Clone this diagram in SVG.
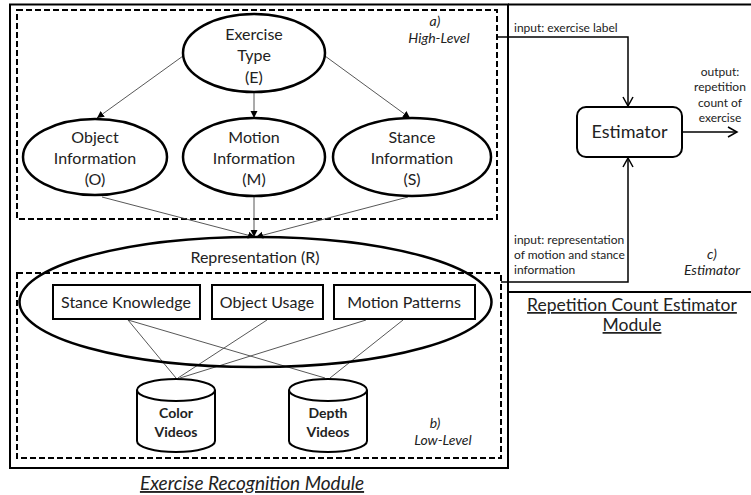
<svg xmlns="http://www.w3.org/2000/svg" width="751" height="495" viewBox="0 0 751 495">
<defs>
<style>
text{font-family:Lato,"Open Sans",sans-serif;fill:#222}
.n{font-size:16px;text-anchor:middle}
.b{font-size:14px;font-weight:bold;text-anchor:middle}
.s{font-size:12px}
.i{font-size:14px;font-style:italic;text-anchor:middle}
.t{font-size:17.5px;text-anchor:middle;text-decoration:underline}
.sh{fill:#fff;stroke:#000;stroke-width:2.5}
.box{fill:none;stroke:#000;stroke-width:2}
.dash{fill:none;stroke:#000;stroke-width:2;stroke-dasharray:6,3}
.c{stroke:#444;stroke-width:0.9;fill:none}
.e{stroke:#000;stroke-width:1.5;fill:none}
</style>
<marker id="ah" markerWidth="8" markerHeight="8" refX="7" refY="4" orient="auto" markerUnits="userSpaceOnUse">
<path d="M0,0.5 L7,4 L0,7.5 Z" fill="#000"/>
</marker>
<marker id="oa" markerWidth="12" markerHeight="12" refX="10" refY="6" orient="auto" markerUnits="userSpaceOnUse">
<path d="M1,1 L10,6 L1,11" fill="none" stroke="#000" stroke-width="1.5"/>
</marker>
</defs>

<g id="frames">
<rect class="box" x="10" y="4.5" width="498" height="463.5"/>
<line class="box" x1="508" y1="4.5" x2="751" y2="4.5"/>
<line class="box" x1="508" y1="292" x2="751" y2="292"/>
<rect class="dash" x="17" y="10" width="480" height="209"/>
<rect class="dash" x="17" y="273" width="484" height="185"/>
<text class="i" x="435" y="26">a)</text>
<text class="i" x="439" y="43">High-Level</text>
<text class="i" x="435" y="428">b)</text>
<text class="i" x="443" y="445">Low-Level</text>
<text class="i" x="712" y="259">c)</text>
<text class="i" x="712" y="275">Estimator</text>
<text class="t" x="252" y="490" font-style="italic" style="font-size:19px">Exercise Recognition Module</text>
<text class="t" x="632" y="311">Repetition Count Estimator</text>
<text class="t" x="632" y="331">Module</text>
</g>

<g id="connectors">
<line class="c" x1="183" y1="56" x2="97" y2="118" marker-end="url(#ah)"/>
<line class="c" x1="254" y1="92" x2="254" y2="118" marker-end="url(#ah)"/>
<line class="c" x1="325" y1="56" x2="410" y2="118" marker-end="url(#ah)"/>
<line class="c" x1="102" y1="197" x2="255" y2="237" marker-end="url(#ah)"/>
<line class="c" x1="254" y1="197" x2="254" y2="237" marker-end="url(#ah)"/>
<line class="c" x1="408" y1="197" x2="256" y2="237" marker-end="url(#ah)"/>
<line class="c" x1="128" y1="320" x2="176" y2="378"/>
<line class="c" x1="128" y1="320" x2="325" y2="378"/>
<line class="c" x1="267" y1="320" x2="178" y2="378"/>
<line class="c" x1="366" y1="320" x2="180" y2="378"/>
<line class="c" x1="403" y1="320" x2="330" y2="378"/>
<polyline class="e" points="497,37 628,37 628,106" marker-end="url(#oa)"/>
<polyline class="e" points="501,282 628,282 628,158" marker-end="url(#oa)"/>
<line class="e" x1="682" y1="132" x2="737" y2="132" marker-end="url(#oa)"/>
<text class="s" x="514" y="32">input: exercise label</text>
<text class="s" x="514" y="244">input: representation</text>
<text class="s" x="514" y="259">of motion  and stance</text>
<text class="s" x="514" y="274">information</text>
<text class="s" x="720" y="76" text-anchor="middle">output:</text>
<text class="s" x="720" y="91" text-anchor="middle">repetition</text>
<text class="s" x="720" y="107" text-anchor="middle">count of</text>
<text class="s" x="720" y="122" text-anchor="middle">exercise</text>
</g>

<g id="node-E">
<ellipse class="sh" cx="254" cy="53" rx="71" ry="39"/>
<text class="n" x="254" y="40">Exercise</text>
<text class="n" x="254" y="61">Type</text>
<text class="n" x="254" y="83">(E)</text>
</g>
<g id="node-O">
<ellipse class="sh" cx="95" cy="157" rx="72" ry="38"/>
<text class="n" x="95" y="143">Object</text>
<text class="n" x="95" y="164">Information</text>
<text class="n" x="95" y="185">(O)</text>
</g>
<g id="node-M">
<ellipse class="sh" cx="254" cy="157" rx="71" ry="39"/>
<text class="n" x="254" y="143">Motion</text>
<text class="n" x="254" y="164">Information</text>
<text class="n" x="254" y="185">(M)</text>
</g>
<g id="node-S">
<ellipse class="sh" cx="412" cy="157" rx="79" ry="39"/>
<text class="n" x="412" y="143">Stance</text>
<text class="n" x="412" y="164">Information</text>
<text class="n" x="412" y="185">(S)</text>
</g>
<g id="node-R">
<ellipse class="sh" cx="255.5" cy="302" rx="236" ry="65" style="fill:none"/>
<text class="n" x="255" y="263">Representation (R)</text>
</g>
<g id="node-SK">
<rect class="box" x="53" y="285" width="147" height="34" fill="#fff"/>
<text class="n" x="126" y="308">Stance Knowledge</text>
</g>
<g id="node-OU">
<rect class="box" x="212" y="285" width="111" height="34" fill="#fff"/>
<text class="n" x="267" y="308">Object Usage</text>
</g>
<g id="node-MP">
<rect class="box" x="334" y="285" width="141" height="34" fill="#fff"/>
<text class="n" x="404" y="308">Motion Patterns</text>
</g>
<g id="node-CV">
<path class="sh" d="M137,390 A39,11 0 0 1 215,390 L215,441 A39,11 0 0 1 137,441 Z" style="stroke-width:2"/>
<path d="M137,390 A39,11 0 0 0 215,390" fill="none" stroke="#000" stroke-width="2"/>
<text class="b" x="176" y="418">Color</text>
<text class="b" x="176" y="437">Videos</text>
</g>
<g id="node-DV">
<path class="sh" d="M289,390 A39,11 0 0 1 367,390 L367,441 A39,11 0 0 1 289,441 Z" style="stroke-width:2"/>
<path d="M289,390 A39,11 0 0 0 367,390" fill="none" stroke="#000" stroke-width="2"/>
<text class="b" x="328" y="418">Depth</text>
<text class="b" x="328" y="437">Videos</text>
</g>
<g id="node-Est">
<rect class="box" x="577" y="107" width="105" height="50" rx="9" fill="#fff"/>
<text x="629.5" y="138" style="font-size:18px;text-anchor:middle">Estimator</text>
</g>
</svg>
